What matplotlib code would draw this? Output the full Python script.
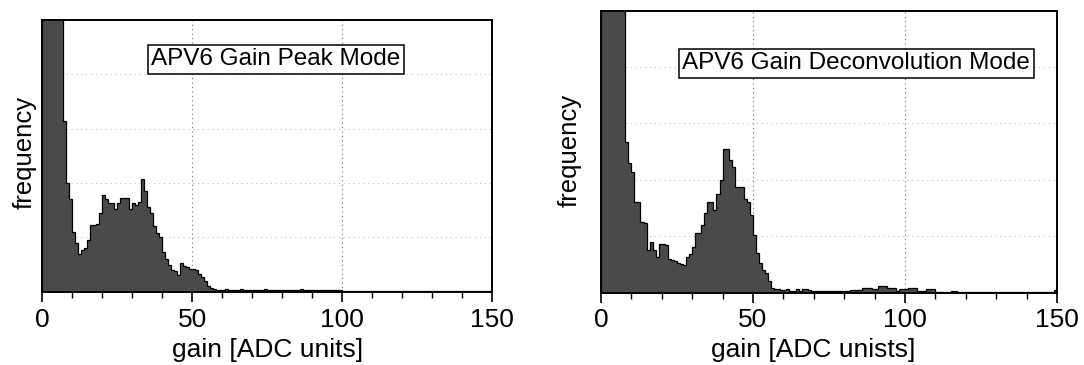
import numpy as np
import matplotlib.pyplot as plt

plt.rcParams['font.family'] = ['Liberation Sans', 'DejaVu Sans']

# gain histogram, 1 ADC unit per bin, 0..150 (frequency in arbitrary units, axis top = 100)
bin_edges = np.arange(0, 151, 1)

peak_mode = [
    200, 200, 200, 200, 200, 200, 200, 63, 40, 34,
    22, 18, 14, 15.5, 16, 19, 24.5, 24.5, 25, 29,
    35.5, 34, 32.5, 32.5, 30.5, 32.5, 34.5, 34.5, 34.5, 30.5,
    32.5, 32, 33, 41.5, 37, 31, 29, 24, 21.5, 20,
    14.5, 12, 10, 8, 7.5, 6, 10.5, 9.5, 9, 8.5,
    8.5, 8, 6.5, 5.5, 4, 2, 1.2, 0.9, 0.8, 0.8,
    0.8, 0.9, 0.8, 0.7, 0.8, 0.8, 0.9, 0.8, 0.7, 0.8,
    0.8, 0.7, 0.8, 0.8, 0.9, 0.8, 0.8, 0.7, 0.8, 0.8,
    0.8, 0.8, 0.7, 0.8, 0.8, 0.8, 0.9, 0.8, 0.8, 0.7,
    0.8, 0.8, 0.8, 0.7, 0.8, 0.8, 0.8, 0.7, 0.8, 0.8,
    0.3, 0.3, 0.3, 0.3, 0.3, 0.3, 0.3, 0.3, 0.3, 0.3,
    0.3, 0.3, 0.3, 0.3, 0.3, 0.3, 0.3, 0.3, 0.3, 0.3,
    0.3, 0.3, 0.3, 0.3, 0.3, 0.3, 0.3, 0.3, 0.3, 0.3,
    0.3, 0.3, 0.3, 0.3, 0.3, 0.3, 0.3, 0.3, 0.3, 0.3,
    0.3, 0.3, 0.3, 0.3, 0.3, 0.3, 0.3, 0.3, 0.3, 0.3,
]

deconv_mode = [
    200, 200, 200, 200, 200, 200, 200, 200, 53.5, 46,
    42.8, 32, 32, 25, 24.8, 15, 18, 15, 12.7, 17.2,
    17.2, 17, 12, 11.5, 11, 10.3, 10, 9.7, 12.7, 13.8,
    16.2, 21.2, 21.2, 24, 28.3, 32, 32, 29.3, 34.8, 40,
    51, 51, 47, 44.6, 37.3, 37.3, 37.3, 33, 32.2, 27.5,
    20.4, 14, 10.4, 8, 6.8, 4, 1.5, 1.2, 1.2, 1,
    0.8, 1.3, 0.7, 0.6, 1.2, 0.6, 1.2, 1.2, 0.9, 0.5,
    0.5, 0.5, 0.6, 0.5, 0.5, 0.5, 0.6, 0.5, 0.5, 0.5,
    0.5, 0.6, 0.9, 0.9, 0.9, 0.9, 1.5, 1.5, 1.5, 1.2,
    1.2, 2.4, 2.4, 2.4, 1.7, 1.7, 1.7, 0.5, 1.2, 1.2,
    1.2, 1.5, 1.5, 1.5, 0.5, 0.5, 0.5, 1.2, 1.2, 1.2,
    0.3, 0.3, 0.3, 0.3, 0.3, 0.6, 0.6, 0.3, 0.3, 0.3,
    0.3, 0.3, 0.3, 0.3, 0.3, 0.3, 0.3, 0.3, 0.3, 0.3,
    0.3, 0.3, 0.3, 0.3, 0.3, 0.3, 0.3, 0.3, 0.3, 0.3,
    0.3, 0.3, 0.3, 0.3, 0.3, 0.3, 0.3, 0.3, 0.3, 0.9,
]

titles = ["APV6 Gain Peak Mode", "APV6 Gain Deconvolution Mode"]
xlabels = ["gain [ADC units]", "gain [ADC unists]"]
x_ticks = [0, 50, 100, 150]

fig = plt.figure(figsize=(10.84, 3.65), dpi=100)
ax1 = fig.add_axes([0.0392, 0.2008, 0.4144, 0.7444])
ax2 = fig.add_axes([0.5544, 0.1986, 0.4207, 0.7726])

setup = [
    (ax1, peak_mode, titles[0], xlabels[0], (78, 85.5), (-0.014, 0.514), (0.5, -0.17)),
    (ax2, deconv_mode, titles[1], xlabels[1], (84, 81.3), (-0.042, 0.505), (0.465, -0.162)),
]

for ax, counts, title, xlab, box_pos, ylab_pos, xlab_pos in setup:
    # dotted grid behind the bars
    for gx in (50, 100):
        ax.axvline(gx, color='0.45', ls=(0, (1, 3)), lw=0.8, zorder=0)
    for gy in (20, 40, 60, 80):
        ax.axhline(gy, color='0.7', ls=(0, (1, 4)), lw=0.7, zorder=0)

    ax.bar(bin_edges[:-1], counts, width=1, align='edge', color='#4a4a4a',
           edgecolor='none', zorder=2)
    ax.stairs(counts, bin_edges, color='black', lw=0.9, zorder=3)

    ax.set_xlim(0, 150)
    ax.set_ylim(0, 100)
    ax.set_xticks(x_ticks)
    ax.set_xticks(np.arange(0, 151, 10), minor=True)
    ax.set_yticks([])
    ax.tick_params(axis='x', which='major', direction='out', length=7, width=1.2,
                   labelsize=19, pad=4.5)
    ax.tick_params(axis='x', which='minor', direction='out', length=4, width=1.0)
    for sp in ax.spines.values():
        sp.set_linewidth(1.4)

    ax.set_ylabel("frequency", fontsize=18.5)
    ax.yaxis.set_label_coords(*ylab_pos)
    ax.set_xlabel(xlab, fontsize=19)
    ax.xaxis.set_label_coords(*xlab_pos)

    ax.text(box_pos[0], box_pos[1], title, fontsize=17.5, ha='center', va='center',
            zorder=5, bbox=dict(boxstyle='square,pad=0.15', fc='white', ec='black', lw=1.1))

fig.savefig("out.png", dpi=100)
